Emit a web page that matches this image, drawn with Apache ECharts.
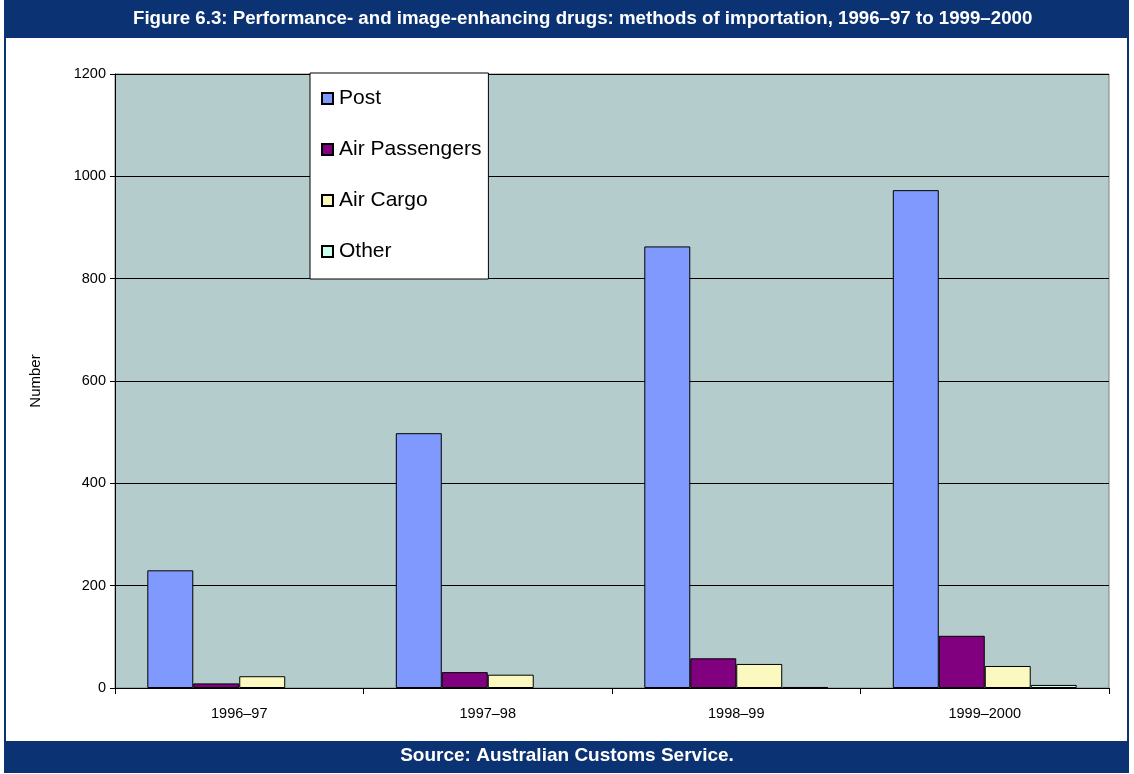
<!DOCTYPE html>
<html>
<head>
<meta charset="utf-8">
<script src="https://cdn.jsdelivr.net/npm/echarts@6/dist/echarts.min.js"></script>
<style>
  html, body { margin: 0; padding: 0; background: #ffffff; }
  #chart { width: 1134px; height: 774px; }
</style>
</head>
<body>
<div id="chart"></div>
<script>
// Financial years on the category axis
const years = ['1996–97', '1997–98', '1998–99', '1999–2000'];

// Detections by method of importation
const post = [230, 498, 863, 973];
const airPassengers = [9, 31, 58, 102];
const airCargo = [23, 26, 47, 43];
const other = [0, 0, 2, 6];

// Value axis ticks
const yTicks = [0, 200, 400, 600, 800, 1000, 1200];

const titleText = 'Figure 6.3: Performance- and image-enhancing drugs: methods of importation, 1996–97 to 1999–2000';
const sourceText = 'Source: Australian Customs Service.';

const NAVY = '#0b3272';
const heading = '"Liberation Sans", Arial, sans-serif';
const plain = '"Liberation Sans", Arial, sans-serif';

function bar(name, values, color) {
  return {
    name: name,
    type: 'bar',
    // zero-height bars are left without an outline
    data: values.map(v => v === 0 ? { value: v, itemStyle: { borderWidth: 0 } } : v),
    barGap: '0%',
    barCategoryGap: '26%',
    itemStyle: { color: color, borderColor: '#000000', borderWidth: 1 },
    emphasis: { disabled: true }
  };
}

const chart = echarts.init(document.getElementById('chart'), null, { renderer: 'canvas' });

chart.setOption({
  animation: false,
  backgroundColor: '#ffffff',
  graphic: [
    // outer frame
    { type: 'rect', z: -10, shape: { x: 5, y: 1, width: 1123, height: 771 },
      style: { fill: '#ffffff', stroke: NAVY, lineWidth: 2 } },
    // heading band
    { type: 'rect', z: -9, shape: { x: 4, y: 0, width: 1125, height: 38 }, style: { fill: NAVY } },
    // footer band
    { type: 'rect', z: -9, shape: { x: 4, y: 741, width: 1125, height: 32 }, style: { fill: NAVY } },
    { type: 'text', left: 133, top: 9, z: 10,
      style: { text: titleText, fill: '#ffffff', font: 'bold 18.7px ' + heading } },
    { type: 'text', left: 'center', top: 746, z: 10,
      style: { text: sourceText, fill: '#ffffff', font: 'bold 19px ' + heading } }
  ],
  grid: {
    left: 115, right: 25, top: 74, bottom: 86,
    show: true, backgroundColor: '#b4cccc', borderColor: '#808080', borderWidth: 1
  },
  legend: {
    orient: 'vertical',
    left: 310, top: 73,
    padding: [15, 7, 17, 11],
    itemGap: 30,
    itemWidth: 11, itemHeight: 11,
    backgroundColor: '#ffffff',
    borderColor: '#000000', borderWidth: 1,
    selectedMode: false,
    icon: 'rect',
    textStyle: { fontFamily: plain, fontSize: 21, color: '#000000', lineHeight: 21, padding: [0, 0, 0, 1] },
    data: ['Post', 'Air Passengers', 'Air Cargo', 'Other']
  },
  xAxis: {
    type: 'category',
    data: years,
    boundaryGap: true,
    axisLine: { lineStyle: { color: '#000000', width: 1 } },
    axisTick: { show: true, length: 6, lineStyle: { color: '#000000' } },
    axisLabel: { fontFamily: plain, fontSize: 14.5, color: '#000000', margin: 18 },
    splitLine: { show: false }
  },
  yAxis: {
    type: 'value',
    min: yTicks[0], max: yTicks[yTicks.length - 1], interval: 200,
    name: 'Number',
    nameLocation: 'middle',
    nameGap: 72,
    nameRotate: 90,
    nameTextStyle: { fontFamily: plain, fontSize: 15, color: '#000000' },
    axisLine: { show: true, lineStyle: { color: '#000000', width: 1 } },
    axisTick: { show: true, length: 5, lineStyle: { color: '#000000' } },
    axisLabel: { fontFamily: plain, fontSize: 14.5, color: '#000000', margin: 9,
      formatter: v => String(v) },
    splitLine: { show: true, lineStyle: { color: '#000000', width: 1 } }
  },
  series: [
    bar('Post', post, '#8099ff'),
    bar('Air Passengers', airPassengers, '#800080'),
    bar('Air Cargo', airCargo, '#fbf8c0'),
    bar('Other', other, '#ccfff0')
  ]
});
</script>
</body>
</html>
